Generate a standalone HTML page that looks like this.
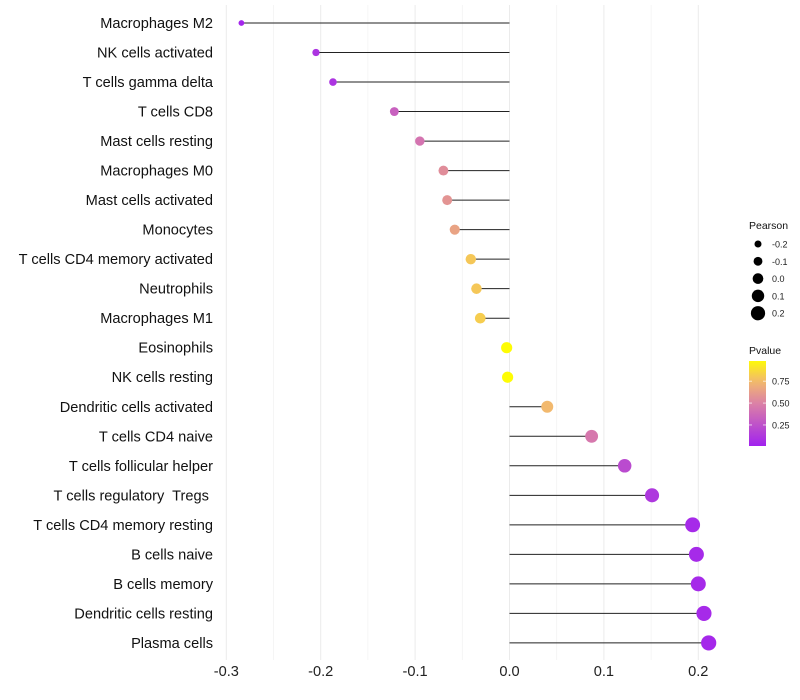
<!DOCTYPE html>
<html><head><meta charset="utf-8"><style>
body{margin:0;background:#fff;font-family:"Liberation Sans",sans-serif;}
svg{display:block}
text{white-space:pre}
</style></head><body>
<svg id="chart" width="800" height="700" xmlns="http://www.w3.org/2000/svg"></svg>
<script>
const categories=["Macrophages M2","NK cells activated","T cells gamma delta","T cells CD8","Mast cells resting","Macrophages M0","Mast cells activated","Monocytes","T cells CD4 memory activated","Neutrophils","Macrophages M1","Eosinophils","NK cells resting","Dendritic cells activated","T cells CD4 naive","T cells follicular helper","T cells regulatory  Tregs ","T cells CD4 memory resting","B cells naive","B cells memory","Dendritic cells resting","Plasma cells"];
const pearson=[-0.284,-0.205,-0.187,-0.122,-0.095,-0.070,-0.066,-0.058,-0.041,-0.035,-0.031,-0.003,-0.002,0.040,0.087,0.122,0.151,0.194,0.198,0.200,0.206,0.211];
const pvalue=[0.03,0.10,0.10,0.33,0.43,0.55,0.58,0.65,0.80,0.80,0.82,0.99,0.99,0.75,0.45,0.22,0.12,0.05,0.05,0.05,0.05,0.04];
const xTicks=[-0.3,-0.2,-0.1,0.0,0.1,0.2];
const xTickLabels=["-0.3","-0.2","-0.1","0.0","0.1","0.2"];
const legendSizes=[-0.2,-0.1,0.0,0.1,0.2];
const legendSizeLabels=["-0.2","-0.1","0.0","0.1","0.2"];
const pTicks=[0.25,0.5,0.75];
const pTickLabels=["0.25","0.50","0.75"];

const NS="http://www.w3.org/2000/svg";
const svg=document.getElementById('chart');
const x=v=>509.5+v*944;
const y=i=>23+i*29.52;
const rScale=v=>Math.max(2,5.6+9.5*v);
const stops=[[0,[160,32,240]],[0.5,[220,130,165]],[0.75,[242,185,110]],[1,[255,255,0]]];
function col(p){for(let k=1;k<stops.length;k++){if(p<=stops[k][0]){const a=stops[k-1],b=stops[k];const t=(p-a[0])/(b[0]-a[0]);const c=a[1].map((v,j)=>Math.round(v+(b[1][j]-v)*t));return `rgb(${c})`;}}return 'rgb(255,255,0)';}
function mk(t,a){const e=document.createElementNS(NS,t);for(const k in a)e.setAttribute(k,a[k]);svg.appendChild(e);return e;}
// grid
for(let k=0;k<xTicks.length;k++){
  const g=mk('line',{x1:x(xTicks[k]),x2:x(xTicks[k]),y1:5,y2:660,stroke:'#ebebeb','stroke-width':1});
  
  
  if(k<xTicks.length-1){
    const m=mk('line',{x1:x(xTicks[k]+0.05),x2:x(xTicks[k]+0.05),y1:5,y2:660,stroke:'#f3f3f3','stroke-width':0.8});
    
    
  }
  const t=mk('text',{x:x(xTicks[k]),y:676,'text-anchor':'middle','font-size':14.6,fill:'#222'});
  t.textContent=xTickLabels[k];
  
  
}
for(let i=0;i<categories.length;i++){
  const l=mk('line',{x1:x(0),x2:x(pearson[i]),y1:y(i),y2:y(i),stroke:'#222','stroke-width':1});
  
  
  const c=mk('circle',{cx:x(pearson[i]),cy:y(i),r:rScale(pearson[i]),fill:col(pvalue[i])});
  
  
  const t=mk('text',{x:213,y:y(i)+5,'text-anchor':'end','font-size':14.6,fill:'#111'});
  t.textContent=categories[i];
  
  
}
// size legend
let t=mk('text',{x:749,y:229,'font-size':10.5,fill:'#111'});t.textContent='Pearson';


for(let k=0;k<legendSizes.length;k++){
  const cy=244+k*17.3;
  const c=mk('circle',{cx:758,cy:cy,r:rScale(legendSizes[k])*0.95,fill:'#000'});
  
  
  const tx=mk('text',{x:772,y:cy+3.5,'font-size':9,fill:'#222'});tx.textContent=legendSizeLabels[k];
  
  
}
// color legend
t=mk('text',{x:749,y:354,'font-size':10.5,fill:'#111'});t.textContent='Pvalue';


const defs=mk('defs',{});
const lg=document.createElementNS(NS,'linearGradient');lg.setAttribute('id','pg');lg.setAttribute('x1','0');lg.setAttribute('y1','1');lg.setAttribute('x2','0');lg.setAttribute('y2','0');
defs.appendChild(lg);
for(let k=0;k<=10;k++){const s=document.createElementNS(NS,'stop');s.setAttribute('offset',k/10);s.setAttribute('stop-color',col(0.01+0.97*k/10));lg.appendChild(s);}
const bar=mk('rect',{x:749,y:361,width:17,height:85,fill:'url(#pg)'});


const py=p=>446-(p-0.01)/0.97*85;
for(let k=0;k<pTicks.length;k++){
  const tx=mk('text',{x:772,y:py(pTicks[k])+3.5,'font-size':9,fill:'#222'});tx.textContent=pTickLabels[k];
  
  
  mk('line',{x1:749,x2:752,y1:py(pTicks[k]),y2:py(pTicks[k]),stroke:'#fff','stroke-width':0.7});
  mk('line',{x1:763,x2:766,y1:py(pTicks[k]),y2:py(pTicks[k]),stroke:'#fff','stroke-width':0.7});
}
</script>
</body></html>
